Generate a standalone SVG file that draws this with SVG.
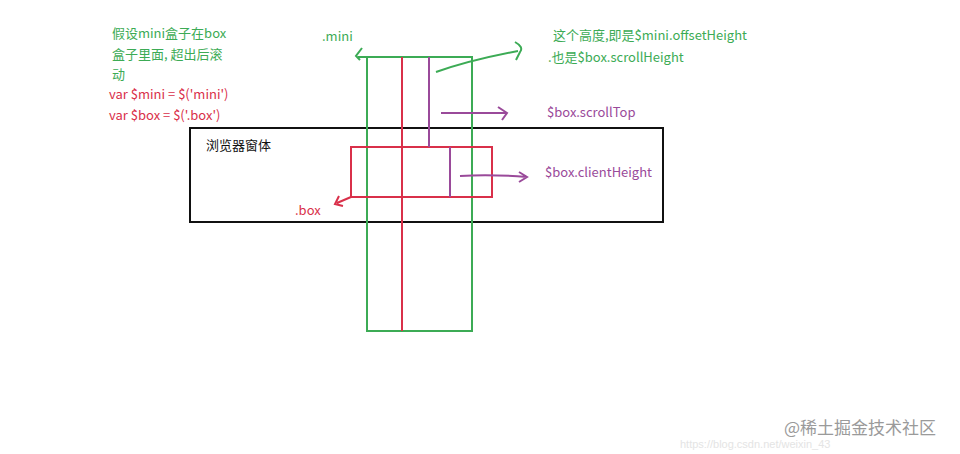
<svg xmlns="http://www.w3.org/2000/svg" width="960" height="454" viewBox="0 0 960 454">
<style>
.t{font-family:"Noto Sans CJK SC","Liberation Sans",sans-serif;font-size:13px}
.g{fill:#3cab55}.r{fill:#d9304a}.p{fill:#9a4a9a}.k{fill:#111}
.gs{stroke:#3cab55;stroke-width:2;fill:none}
.rs{stroke:#d9304a;stroke-width:2;fill:none}
.ps{stroke:#9a4a9a;stroke-width:2;fill:none}
</style>
<rect width="960" height="454" fill="#fff"/>
<g id="window"><rect x="190" y="128" width="473" height="94" fill="none" stroke="#111" stroke-width="2"/><text class="t k" x="206" y="150">浏览器窗体</text></g>
<g id="mini"><rect x="367" y="57" width="105" height="274" class="gs"/><text class="t g" x="322" y="41">.mini</text></g>
<g id="box"><rect x="351" y="147" width="141" height="50" class="rs"/><text class="t r" x="295" y="215">.box</text></g>
<g id="connectors">
<line x1="402" y1="57" x2="402" y2="331" class="rs"/>
<line x1="429" y1="57" x2="429" y2="147" class="ps"/>
<line x1="450" y1="147" x2="450" y2="197" class="ps"/>
<path d="M441 113 H507 M498 107 L507 113 L502 120" class="ps"/>
<path d="M460 176 Q490 174 527 177 M519 172 L527 177 L519 182" class="ps"/>
<path d="M436 72 Q470 60 518 51 M515 42 Q524 47 520 52 L516 60" class="gs"/>
<path d="M367 57 H358 M362 48 L356 56 L360 60" class="gs"/>
<path d="M351 197 L337 203 M339 196 L335 204 L343 206" class="rs"/>
</g>
<g id="notes">
<text class="t g" x="112" y="38">假设mini盒子在box</text>
<text class="t g" x="112" y="59">盒子里面, 超出后滚</text>
<text class="t g" x="112" y="79">动</text>
<text class="t r" x="109" y="99">var $mini = $('mini')</text>
<text class="t r" x="109" y="120">var $box = $('.box')</text>
<text class="t g" x="553" y="40">这个高度,即是$mini.offsetHeight</text>
<text class="t g" x="548" y="62">.也是$box.scrollHeight</text>
<text class="t p" x="547" y="117">$box.scrollTop</text>
<text class="t p" x="545" y="177">$box.clientHeight</text>
</g>
<text x="680" y="448" font-family="Liberation Sans,sans-serif" font-size="11" fill="#e4e4e4">https://blog.csdn.net/weixin_43</text>
<text x="784" y="434" font-family="Noto Sans CJK SC,sans-serif" font-size="17" fill="#9a9a9a">@稀土掘金技术社区</text>
</svg>
